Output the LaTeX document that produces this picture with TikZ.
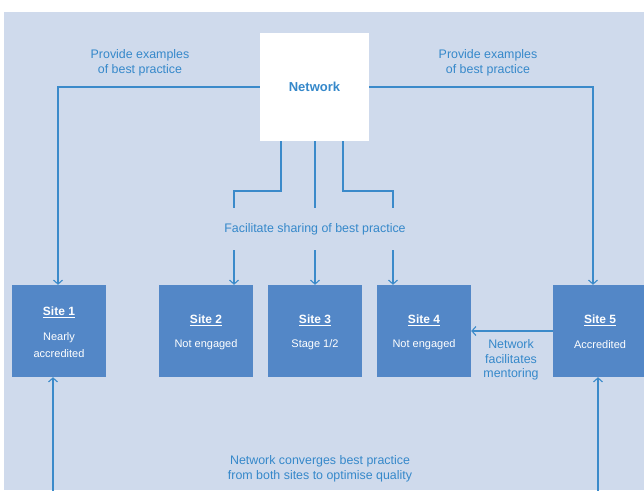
\documentclass[tikz,border=0pt]{standalone}
\usepackage{fontspec}
\setmainfont{Liberation Sans}
\usetikzlibrary{arrows.meta}
\definecolor{bgblue}{HTML}{CFDAEC}
\definecolor{boxblue}{HTML}{5387C7}
\definecolor{lineblue}{HTML}{3B8ACA}
\definecolor{txtblue}{HTML}{3588CA}
\tikzset{
  sitebox/.style={fill=boxblue, draw=none, minimum width=94pt, minimum height=92pt, inner sep=0pt},
  netbox/.style={fill=white, draw=none, minimum width=109pt, minimum height=108pt, inner sep=0pt},
  lbl/.style={text=txtblue, align=center, font=\fontsize{12.4}{14.6}\selectfont, inner sep=0pt},
  sitetitle/.style={text=white, font=\bfseries\fontsize{12}{14}\selectfont, inner sep=0pt},
  sitesub/.style={text=white, align=center, font=\fontsize{11}{16.5}\selectfont, inner sep=0pt},
  conn/.style={draw=lineblue, line width=1.2pt},
  arr/.style={conn, -{Straight Barb[length=4pt,width=9pt,line width=1.1pt]}},
}
\begin{document}
\begin{tikzpicture}[x=1pt,y=-1pt]
\useasboundingbox (0,0) rectangle (644,490);
\fill[bgblue] (4,12) rectangle (644,490);
\begin{scope}
\clip (0,0) rectangle (644,490);
% boxes
\node[netbox] (net) at (314.5,87) {};
\node[text=txtblue, font=\bfseries\fontsize{13}{15}\selectfont, inner sep=0pt] (nettxt) at (314.5,87) {Network};
\node[sitebox] (s1) at (59,331) {};
\node[sitebox] (s2) at (206,331) {};
\node[sitebox] (s3) at (315,331) {};
\node[sitebox] (s4) at (424,331) {};
\node[sitebox] (s5) at (600,331) {};
% site texts
\node[sitetitle] (t1) at (59,312) {\underline{Site 1}};
\node[sitesub] (u1) at (59,345) {Nearly\\accredited};
\node[sitetitle] (t2) at (206,320) {\underline{Site 2}};
\node[sitesub] (u2) at (206,345) {Not engaged};
\node[sitetitle] (t3) at (315,320) {\underline{Site 3}};
\node[sitesub] (u3) at (315,345) {Stage 1/2};
\node[sitetitle] (t4) at (424,320) {\underline{Site 4}};
\node[sitesub] (u4) at (424,345) {Not engaged};
\node[sitetitle] (t5) at (600,320) {\underline{Site 5}};
\node[sitesub] (u5) at (600,345) {Accredited};
% labels
\node[lbl] (lp1) at (140,63) {Provide examples\\of best practice};
\node[lbl] (lp2) at (488,63) {Provide examples\\of best practice};
\node[lbl] (lfac) at (315,229.5) {Facilitate sharing of best practice};
\node[lbl] (lmen) at (511,360) {Network\\facilitates\\mentoring};
\node[lbl] (lconv) at (320,469) {Network converges best practice\\from both sites to optimise quality};
% coordinates
\coordinate (b1) at (281,141);
\coordinate (b2) at (315,141);
\coordinate (b3) at (343,141);
\coordinate (e1) at (234,208);
\coordinate (e2) at (315,208);
\coordinate (e3) at (393,208);
\coordinate (a1) at (234,250);
\coordinate (a2) at (315,250);
\coordinate (a3) at (393,250);
\coordinate (bot1) at (53,491);
\coordinate (bot5) at (598,491);
% connectors
\draw[arr] (net.west) -| ([xshift=-1pt]s1.north);
\draw[arr] (net.east) -| ([xshift=-7pt]s5.north);
\draw[conn] (b1) -- (281,191) -- (234,191) -- (e1);
\draw[conn] (b2) -- (e2);
\draw[conn] (b3) -- (343,191) -- (393,191) -- (e3);
\draw[arr] (a1) -- (a1 |- s2.north);
\draw[arr] (a2) -- (a2 |- s3.north);
\draw[arr] (a3) -- (a3 |- s4.north);
\draw[arr] (s5.west) -- (s4.east);
\draw[arr] (bot1) -- (bot1 |- s1.south);
\draw[arr] (bot5) -- (bot5 |- s5.south);
\end{scope}
\end{tikzpicture}
\end{document}
